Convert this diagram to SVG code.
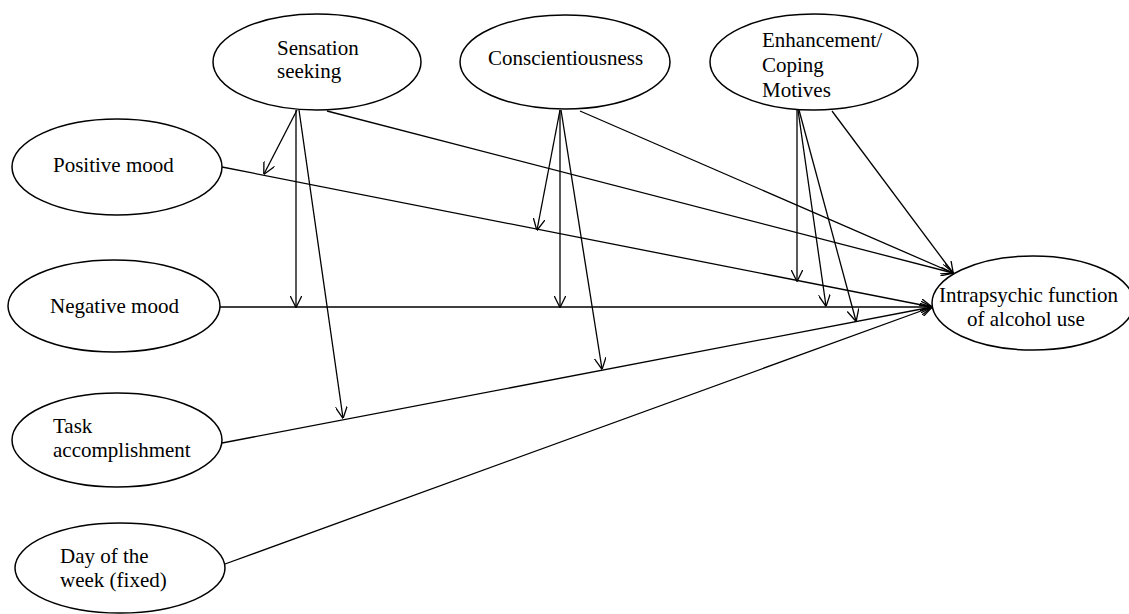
<svg xmlns="http://www.w3.org/2000/svg" width="1129" height="614" viewBox="0 0 1129 614">
<style>
  .node ellipse { fill: #fff; stroke: #000; stroke-width: 1.5; }
  .node text { font-size: 21px; fill: #000; }
  .conn line { stroke: #000; stroke-width: 1.3; fill: none; marker-end: url(#arr); }
</style>
<defs>
  <marker id="arr" viewBox="0 0 12 12" refX="11.5" refY="6" markerWidth="12" markerHeight="12" markerUnits="userSpaceOnUse" orient="auto">
    <path d="M0,0 L12,6 L0,12" fill="none" stroke="#000" stroke-width="1.3"/>
  </marker>
</defs>
<rect width="1129" height="614" fill="#fff"/>

<g id="connectors" class="conn">
  <!-- direct paths to outcome -->
  <line x1="222" y1="167" x2="932" y2="307"/>
  <line x1="220" y1="307" x2="932" y2="307"/>
  <line x1="222" y1="443" x2="932" y2="307"/>
  <line x1="225" y1="564" x2="932" y2="307"/>
  <line x1="327" y1="111" x2="953" y2="273"/>
  <line x1="580" y1="111" x2="953" y2="273"/>
  <line x1="832" y1="111" x2="953" y2="273"/>
  <!-- Sensation seeking moderations -->
  <line x1="297" y1="110" x2="264" y2="174"/>
  <line x1="296" y1="110" x2="296" y2="307"/>
  <line x1="299" y1="110" x2="343" y2="418"/>
  <!-- Conscientiousness moderations -->
  <line x1="560" y1="110" x2="537" y2="230"/>
  <line x1="560" y1="110" x2="560" y2="307"/>
  <line x1="561" y1="110" x2="602" y2="369"/>
  <!-- Enhancement/Coping moderations -->
  <line x1="797" y1="110" x2="797" y2="281"/>
  <line x1="798" y1="110" x2="826" y2="306"/>
  <line x1="799" y1="110" x2="856" y2="321"/>
</g>

<g id="sensation" class="node" font-family="'Liberation Serif', 'DejaVu Serif', serif">
  <ellipse cx="317" cy="62" rx="104" ry="48"/>
  <text x="277" y="55">Sensation</text>
  <text x="277" y="78">seeking</text>
</g>
<g id="conscientiousness" class="node" font-family="'Liberation Serif', 'DejaVu Serif', serif">
  <ellipse cx="565" cy="62" rx="105" ry="47"/>
  <text x="488" y="65">Conscientiousness</text>
</g>
<g id="enhancement" class="node" font-family="'Liberation Serif', 'DejaVu Serif', serif">
  <ellipse cx="814" cy="62" rx="104" ry="48"/>
  <text x="762" y="47" font-size="20">Enhancement/</text>
  <text x="762" y="72" font-size="20">Coping</text>
  <text x="762" y="97" font-size="20">Motives</text>
</g>
<g id="positive" class="node" font-family="'Liberation Serif', 'DejaVu Serif', serif">
  <ellipse cx="117" cy="167" rx="105" ry="48"/>
  <text x="53" y="172">Positive mood</text>
</g>
<g id="negative" class="node" font-family="'Liberation Serif', 'DejaVu Serif', serif">
  <ellipse cx="114" cy="306" rx="106" ry="46"/>
  <text x="50" y="313">Negative mood</text>
</g>
<g id="task" class="node" font-family="'Liberation Serif', 'DejaVu Serif', serif">
  <ellipse cx="117" cy="440" rx="105" ry="47"/>
  <text x="53" y="433">Task</text>
  <text x="53" y="457">accomplishment</text>
</g>
<g id="day" class="node" font-family="'Liberation Serif', 'DejaVu Serif', serif">
  <ellipse cx="120" cy="568" rx="105" ry="45"/>
  <text x="60" y="563">Day of the</text>
  <text x="60" y="587">week (fixed)</text>
</g>
<g id="outcome" class="node" font-family="'Liberation Serif', 'DejaVu Serif', serif">
  <ellipse cx="1033" cy="303" rx="101" ry="47"/>
  <text x="939" y="302" font-size="22">Intrapsychic function</text>
  <text x="967" y="326" font-size="22">of alcohol use</text>
</g>
</svg>
